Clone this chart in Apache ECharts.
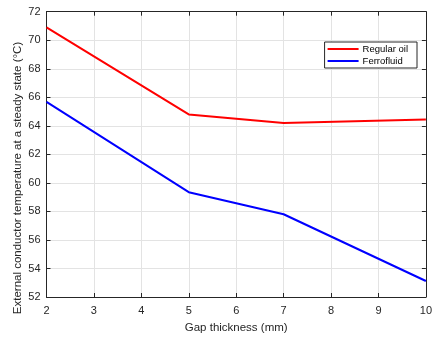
<!DOCTYPE html>
<html><head><meta charset="utf-8">
<script src="https://cdn.jsdelivr.net/npm/echarts@6/dist/echarts.min.js"></script>
<style>html,body{margin:0;padding:0;background:#fff}#c{width:435px;height:339px}</style>
</head><body><div id="c"></div>
<script>
const gapThickness = [2, 5, 7, 10];
const regularOil = [70.9, 64.8, 64.2, 64.45];
const ferrofluid = [65.68, 59.35, 57.8, 53.12];
const seriesNames = ['Regular oil', 'Ferrofluid'];
const xTitle = 'Gap thickness (mm)';
const yTitle = 'External conductor temperature at a steady state (\u00B0C)';

const axisColor = '#262626';
const gridColor = '#e3e3e3';
const font = 'Liberation Sans, Arial, Helvetica, sans-serif';
const chart = echarts.init(document.getElementById('c'));
const baseAxis = {
  axisLine: {show: true, lineStyle: {color: axisColor, width: 1}},
  axisTick: {show: true, inside: true, length: 4, lineStyle: {color: axisColor}},
  splitLine: {show: false},
  axisLabel: {show: false}
};
chart.setOption({
  animation: false,
  grid: {left: 46.5, right: 4.5, top: 11.7, bottom: 35.3, containLabel: false},
  legend: {
    orient: 'vertical', right: 18, top: 42,
    data: seriesNames,
    backgroundColor: '#fff', borderColor: axisColor, borderWidth: 1,
    padding: [1, 9, 1, 3], itemGap: 0, itemWidth: 31, itemHeight: 2,
    icon: 'rect',
    textStyle: {fontFamily: font, fontSize: 9.5, lineHeight: 12, color: '#000', padding: [0, 0, 0, -1]}
  },
  graphic: [{
    type: 'text', x: 18, y: 178, rotation: Math.PI / 2,
    style: {text: yTitle, fill: axisColor, font: '11.5px ' + font, align: 'center', verticalAlign: 'middle'}
  }],
  xAxis: [
    Object.assign({}, baseAxis, {
      type: 'value', min: 2, max: 10, interval: 1, position: 'bottom',
      splitLine: {show: true, lineStyle: {color: gridColor, width: 1}},
      axisLabel: {show: true, color: axisColor, fontFamily: font, fontSize: 11, margin: 8},
      name: xTitle, nameLocation: 'middle', nameGap: 25,
      nameTextStyle: {color: axisColor, fontFamily: font, fontSize: 11.5}
    }),
    Object.assign({}, baseAxis, {type: 'value', min: 2, max: 10, interval: 1, position: 'top'})
  ],
  yAxis: [
    Object.assign({}, baseAxis, {
      type: 'value', min: 52, max: 72, interval: 2, position: 'left',
      splitLine: {show: true, lineStyle: {color: gridColor, width: 1}},
      axisLabel: {show: true, color: axisColor, fontFamily: font, fontSize: 11, margin: 6}
    }),
    Object.assign({}, baseAxis, {type: 'value', min: 52, max: 72, interval: 2, position: 'right'})
  ],
  series: [
    {name: seriesNames[0], type: 'line', showSymbol: false, symbol: 'none',
     data: gapThickness.map((x, i) => [x, regularOil[i]]),
     lineStyle: {color: '#ff0000', width: 2}, itemStyle: {color: '#ff0000'}},
    {name: seriesNames[1], type: 'line', showSymbol: false, symbol: 'none',
     data: gapThickness.map((x, i) => [x, ferrofluid[i]]),
     lineStyle: {color: '#0000ff', width: 2}, itemStyle: {color: '#0000ff'}}
  ]
});
</script></body></html>
